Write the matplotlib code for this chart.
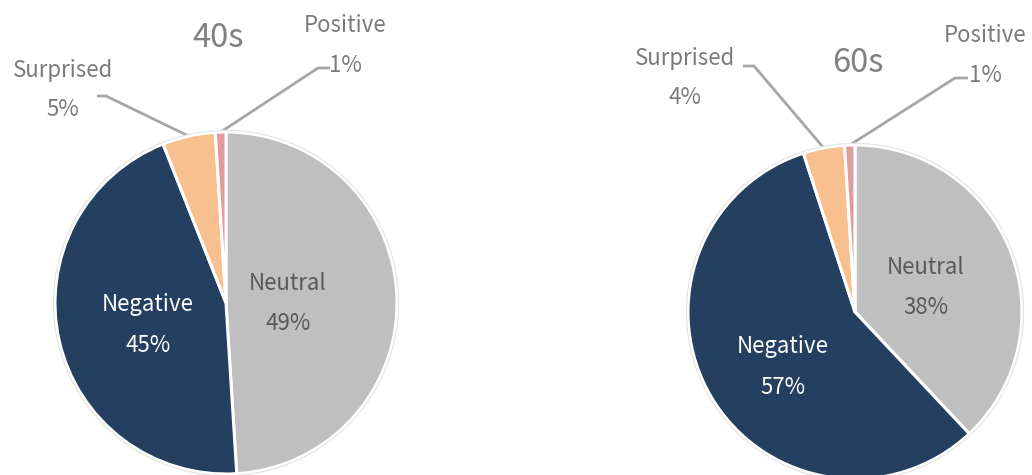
import numpy as np
import matplotlib
matplotlib.use("Agg")
import matplotlib.pyplot as plt
from matplotlib.patches import Circle

plt.rcParams['font.family'] = ['Noto Sans CJK JP', 'DejaVu Sans']

# Emotion shares per age group (percent)
categories = ["Neutral", "Negative", "Surprised", "Positive"]
values_40s = [49, 45, 5, 1]
values_60s = [38, 57, 4, 1]
titles = ["40s", "60s"]

colors = ["#BFBFBF", "#243F60", "#F9C08F", "#DF9C9A"]

W, H = 1032, 475
fig = plt.figure(figsize=(W / 100, H / 100), dpi=100)
ax = fig.add_axes([0, 0, 1, 1])

OUT_COLOR = "#7A7A7A"
LINE_COLOR = "#A6A6A6"
FS = 16


def py(y):
    # convert top-down pixel y to axis y
    return H - y


def draw_pie(values, title, center, radius, title_pos, inside, outside):
    cx, cy = center[0], py(center[1])
    wedges, _ = ax.pie(values, colors=colors, startangle=90, counterclock=False,
                       center=(cx, cy), radius=radius,
                       wedgeprops=dict(edgecolor="white", linewidth=2.2))
    ax.add_patch(Circle((cx, cy), radius + 1.6, fill=False,
                        edgecolor="#E3E3E3", linewidth=0.8))
    ax.text(title_pos[0], py(title_pos[1]), title, ha="center", va="center",
            fontsize=23.5, color="#808080")

    # labels inside the large slices
    for idx, (x, y, col) in inside.items():
        ax.text(x, py(y), categories[idx], ha="center", va="center",
                fontsize=FS, color=col)
        ax.text(x, py(y + 40), f"{values[idx]}%", ha="center", va="center",
                fontsize=FS, color=col)

    # labels outside the small slices with leader lines
    for idx, (x, y, elbow, join) in outside.items():
        ax.text(x, py(y), categories[idx], ha="center", va="center",
                fontsize=FS, color=OUT_COLOR)
        ax.text(x, py(y + 40), f"{values[idx]}%", ha="center", va="center",
                fontsize=FS, color=OUT_COLOR)
        w = wedges[idx]
        ang = np.deg2rad((w.theta1 + w.theta2) / 2)
        ex = cx + radius * np.cos(ang)
        ey = cy + radius * np.sin(ang)
        ax.plot([join[0], elbow[0], ex], [py(join[1]), py(elbow[1]), ey],
                color=LINE_COLOR, linewidth=2, solid_capstyle="butt",
                zorder=0)


draw_pie(values_40s, titles[0], center=(226, 303), radius=171,
         title_pos=(218, 38),
         inside={0: (288, 284, "#595959"), 1: (148, 305, "white")},
         outside={2: (63, 70, (106, 96), (97, 96)),
                  3: (345, 26, (318, 68), (330, 68))})

draw_pie(values_60s, titles[1], center=(855, 312), radius=167,
         title_pos=(858, 63),
         inside={0: (926, 268, "#595959"), 1: (783, 347, "white")},
         outside={2: (685, 58, (754, 66), (743, 66)),
                  3: (985, 35, (955, 78), (968, 78))})

ax.set_xlim(0, W)
ax.set_ylim(0, H)
ax.set_aspect("equal")
ax.axis("off")

fig.savefig("out.png", dpi=100, facecolor="white")
